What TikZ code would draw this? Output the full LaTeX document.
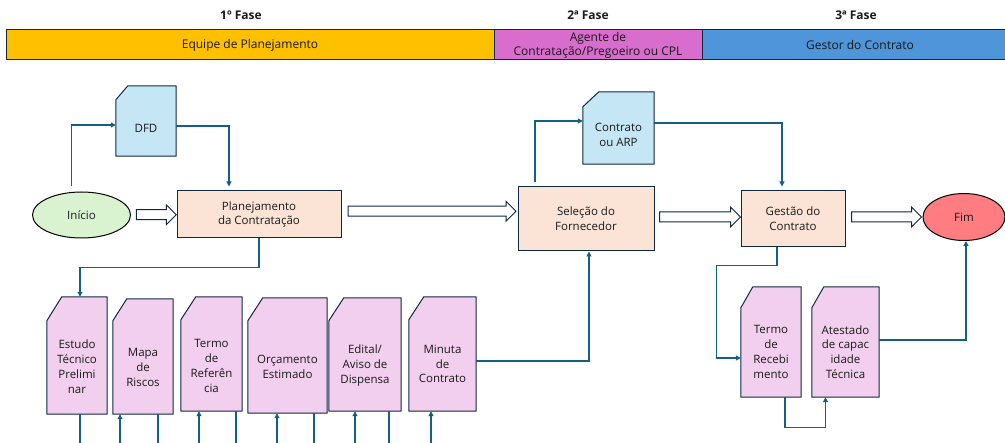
\documentclass[tikz,border=0pt]{standalone}
\usepackage{fontspec}
\setmainfont{Open Sans}
\usetikzlibrary{arrows.meta,shapes.arrows,shapes.geometric,calc}

\definecolor{linha}{HTML}{156082}
\definecolor{borda}{HTML}{0E2841}
\definecolor{texto}{HTML}{1A1A1A}
\definecolor{pessego}{HTML}{FBE3D6}
\definecolor{rosa}{HTML}{F2CFEE}
\definecolor{azulclaro}{HTML}{C5E6F5}
\definecolor{verde}{HTML}{D9F2D0}
\definecolor{vermelho}{HTML}{FF7C80}
\definecolor{amarelo}{HTML}{FFC000}
\definecolor{roxo}{HTML}{D86DCD}
\definecolor{azul}{HTML}{4E95D9}

\tikzset{
  fonte/.style={font=\fontsize{11.5}{14.8}\selectfont},
  faixa/.style={draw=borda, line width=1pt, inner sep=0pt, minimum height=30pt, text=texto, align=center, font=\fontsize{12}{15}\selectfont},
  fase/.style={text=texto, font=\fontsize{12}{14}\selectfont\bfseries},
  caixa/.style={draw=borda, line width=1pt, fill=pessego, text=texto, align=center, inner sep=0pt, fonte},
  terminal/.style={ellipse, draw=black, line width=1pt, text=texto, inner sep=0pt, fonte},
  doc/.style n args={3}{rectangle, inner sep=0pt,
    append after command={\pgfextra{
      \draw[draw=borda, line width=1pt, fill=#1, line join=round]
        (\tikzlastnode.south west) -- ([yshift=-#3]\tikzlastnode.north west)
        -- ([xshift=#2]\tikzlastnode.north west) -- (\tikzlastnode.north east)
        -- (\tikzlastnode.south east) -- cycle;}}},
  doctexto/.style={align=center, text=texto, fonte},
  conn/.style={draw=linha, line width=1.1pt, -{Triangle[length=5pt,width=5pt]}},
  seta/.style={single arrow, draw=borda, fill=white, line width=1pt, inner xsep=0pt, inner ysep=4.5pt, single arrow head extend=5pt, minimum width=0pt},
}

\begin{document}
\begin{tikzpicture}[x=1pt,y=-1pt]
\useasboundingbox (0,0) rectangle (1005,443);
\clip (0,0) rectangle (1005,443);

% fases
\node[fase] (fase1) at (241,15) {1º Fase};
\node[fase] (fase2) at (588,15) {2ª Fase};
\node[fase] (fase3) at (856,15) {3ª Fase};
\node[faixa, fill=amarelo, minimum width=488pt] (equipe) at (250,45) {Equipe de Planejamento};
\node[faixa, fill=roxo, minimum width=208pt] (agente) at (598,45) {Agente de\\[-1pt]Contratação/Pregoeiro ou CPL};
\node[faixa, fill=azul, minimum width=316pt] (gestor) at (860,45) {Gestor do Contrato};

% fluxo principal
\node[terminal, fill=verde, minimum width=98pt, minimum height=46pt] (inicio) at (81.5,215) {Início};
\node[caixa, minimum width=164pt, minimum height=47pt] (plan) at (259,214.5) {Planejamento\\da Contratação};
\node[caixa, minimum width=136pt, minimum height=64pt] (sel) at (586,219) {Seleção do\\Fornecedor};
\node[caixa, minimum width=104pt, minimum height=56pt] (gestao) at (793,219) {Gestão do\\Contrato};
\node[terminal, fill=vermelho, minimum width=82pt, minimum height=47pt] (fim) at (964,217) {Fim};

% documentos
\node[doc={azulclaro}{12pt}{14pt}, minimum width=60pt, minimum height=70pt,
  label={[doctexto, yshift=-7pt]center:DFD}] (dfd) at (146,121) {};
\node[doc={azulclaro}{16pt}{15pt}, minimum width=71pt, minimum height=72pt,
  label={[doctexto, yshift=-7pt]center:{Contrato\\ou ARP}}] (contrato) at (618.5,128) {};

\node[doc={rosa}{15pt}{24pt}, minimum width=60pt, minimum height=117pt,
  label={[doctexto, yshift=-11pt]center:{Estudo\\Técnico\\Prelimi\\nar}}] (etp) at (77,355.5) {};
\node[doc={rosa}{14pt}{22pt}, minimum width=60pt, minimum height=115pt,
  label={[doctexto, yshift=-11pt]center:{Mapa\\de\\Riscos}}] (mapa) at (143,356.5) {};
\node[doc={rosa}{15pt}{23pt}, minimum width=61pt, minimum height=114pt,
  label={[doctexto, yshift=-12pt]center:{Termo\\de\\Referên\\cia}}] (tref) at (211.5,354) {};
\node[doc={rosa}{15pt}{23pt}, minimum width=79pt, minimum height=115pt,
  label={[doctexto, yshift=-11pt]center:{Orçamento\\Estimado}}] (orc) at (287.5,355.5) {};
\node[doc={rosa}{15pt}{23pt}, minimum width=72pt, minimum height=113pt,
  label={[doctexto, yshift=-11pt]center:{Edital/\\Aviso de\\Dispensa}}] (edital) at (365,354.5) {};
\node[doc={rosa}{15pt}{23pt}, minimum width=67pt, minimum height=114pt,
  label={[doctexto, yshift=-10pt]center:{Minuta\\de\\Contrato}}] (minuta) at (442.5,354) {};

\node[doc={rosa}{12pt}{21pt}, minimum width=60pt, minimum height=110pt,
  label={[doctexto, yshift=-10pt]center:{Termo\\de\\Recebi\\mento}}] (trec) at (771,342) {};
\node[doc={rosa}{12pt}{21pt}, minimum width=67pt, minimum height=110pt,
  label={[doctexto, yshift=-10pt]center:{Atestado\\de capac\\idade\\Técnica}}] (atest) at (845.5,342) {};

% setas largas
\path (inicio.east) -- node[seta, minimum height=40pt] (s1) {} (plan.west);
\path ([yshift=3pt]plan.east) -- node[seta, minimum height=168pt] (s2) {} ([yshift=8pt]sel.west);
\path ([yshift=2pt]sel.east) -- node[seta, minimum height=81pt] (s3) {} ([yshift=2pt]gestao.west);
\path ([yshift=2pt]gestao.east) -- node[seta, minimum height=70pt] (s4) {} (fim.west);

% conectores
\coordinate (base) at (0,446);
\draw[conn] ([xshift=-10pt,yshift=5pt]inicio.north) |- ([yshift=-4pt]dfd.west);
\draw[conn] ([yshift=-5pt]dfd.east) -| ([xshift=-30pt,yshift=4pt]plan.north);
\draw[conn] (plan.south) -- ++(0,29) -| ([xshift=3pt]etp.north);
\draw[conn] ([yshift=-7pt]minuta.east) -| ([xshift=3pt]sel.south);
\draw[conn] ([xshift=-51pt,yshift=4pt]sel.north) |- ([yshift=7pt]contrato.west);
\draw[conn] ([yshift=5pt]contrato.east) -| ([xshift=-11pt,yshift=4pt]gestao.north);
\draw[conn] ([xshift=-16pt]gestao.south) -- ++(0,18) -| ([xshift=-24pt,yshift=-16pt]trec.west) -- ([yshift=-16pt]trec.west);
\draw[conn] ([xshift=14pt]trec.south) -- ++(0,30) -| ([xshift=-20pt]atest.south);
\draw[conn] ([yshift=2pt]atest.east) -| ([xshift=2pt]fim.south);

% ligacoes entre documentos (cortadas na borda)
\draw[conn] ([xshift=3pt]etp.south) -- ([xshift=3pt]etp.south |- base) -| ([xshift=-23pt]mapa.south);
\draw[conn] ([xshift=15pt]mapa.south) -- ([xshift=15pt]mapa.south |- base) -| ([xshift=-12.5pt]tref.south);
\draw[conn] ([xshift=24.5pt]tref.south) -- ([xshift=24.5pt]tref.south |- base) -| ([xshift=-10.5pt]orc.south);
\draw[conn] ([xshift=26.5pt]orc.south) -- ([xshift=26.5pt]orc.south |- base) -| ([xshift=-10pt]edital.south);
\draw[conn] ([xshift=24pt]edital.south) -- ([xshift=24pt]edital.south |- base) -| ([xshift=-11.5pt]minuta.south);
\end{tikzpicture}
\end{document}
